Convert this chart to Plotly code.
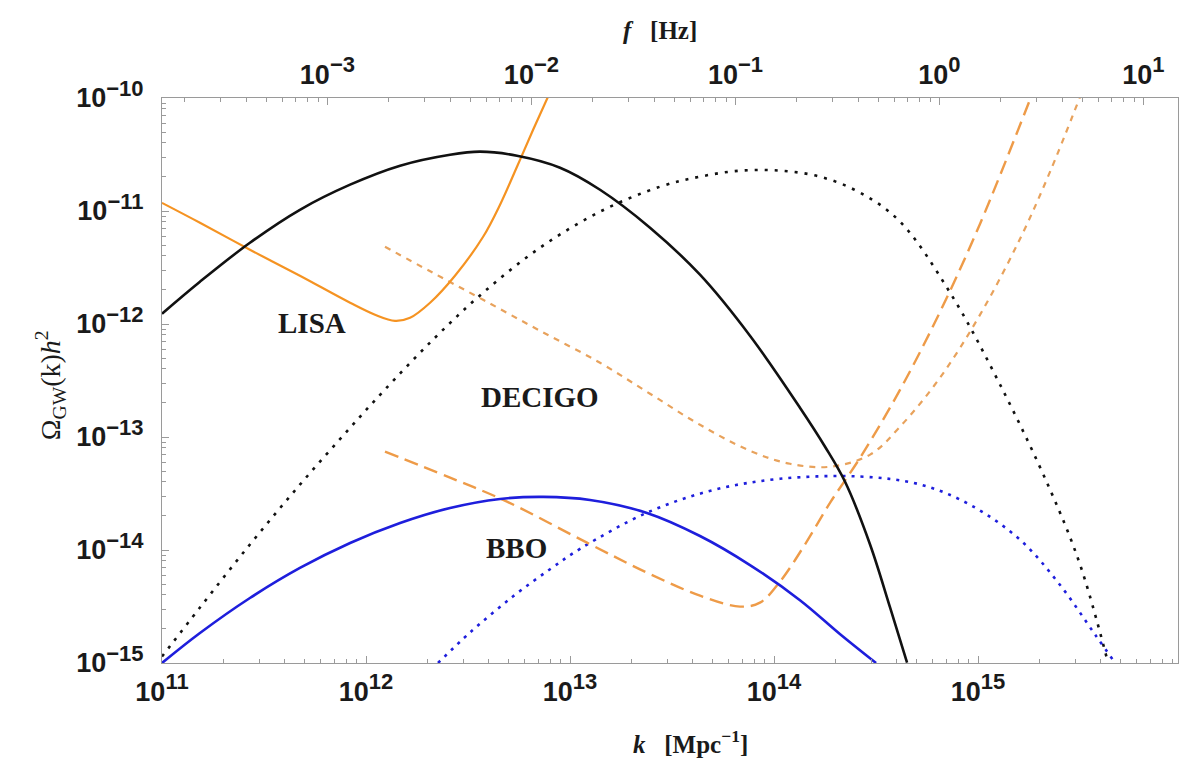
import numpy as np
import plotly.graph_objects as go

# ---- data (log10 k [Mpc^-1], log10 Omega_GW h^2) ----
black_solid_logk = [11.0, 11.186, 11.431, 11.676, 11.922, 12.167, 12.412, 12.559, 12.740, 12.951, 13.147, 13.392,
                    13.637, 13.882, 14.127, 14.25, 14.348, 14.471, 14.569, 14.652]
black_solid_logo = [-11.909, -11.626, -11.281, -10.989, -10.767, -10.599, -10.502, -10.475, -10.511, -10.617, -10.812,
                    -11.148, -11.564, -12.104, -12.741, -13.086, -13.396, -13.953, -14.51, -14.997]

black_dot_logk = [11.0, 11.186, 11.431, 11.676, 11.922, 12.083, 12.328, 12.574, 12.853, 13.147, 13.441, 13.637,
                  13.833, 14.029, 14.225, 14.422, 14.618, 14.863, 15.108, 15.353, 15.5, 15.637]
black_dot_logo = [-14.943, -14.509, -13.951, -13.422, -12.918, -12.599, -12.139, -11.723, -11.325, -11.006, -10.785,
                  -10.696, -10.643, -10.643, -10.696, -10.838, -11.095, -11.723, -12.537, -13.466, -14.13, -14.997]

blue_solid_logk = [11.0, 11.186, 11.431, 11.676, 11.922, 12.167, 12.412, 12.657, 12.868, 13.098, 13.377, 13.637,
                   13.882, 14.127, 14.324, 14.5]
blue_solid_logo = [-15.0, -14.735, -14.425, -14.159, -13.938, -13.761, -13.628, -13.548, -13.530, -13.557, -13.672,
                   -13.876, -14.133, -14.444, -14.745, -15.0]

blue_dot_logk = [12.353, 12.51, 12.721, 12.902, 13.049, 13.377, 13.701, 14.029, 14.422, 14.716, 14.961, 15.206,
                 15.402, 15.574, 15.672]
blue_dot_logo = [-15.0, -14.73, -14.41, -14.17, -13.99, -13.67, -13.47, -13.37, -13.35, -13.42, -13.60, -13.91,
                 -14.31, -14.75, -15.0]

lisa_logk = [11.0, 11.186, 11.431, 11.676, 11.922, 12.044, 12.142, 12.216, 12.314, 12.436, 12.574, 12.657, 12.740,
             12.819, 12.892]
lisa_logo = [-10.928, -11.104, -11.343, -11.573, -11.812, -11.918, -11.972, -11.945, -11.812, -11.573, -11.228,
             -10.944, -10.608, -10.281, -9.989]

decigo_logk = [12.093, 12.328, 12.574, 12.853, 13.147, 13.392, 13.637, 13.882, 14.078, 14.275, 14.471, 14.618,
               14.814, 15.01, 15.206, 15.353, 15.5]
decigo_logo = [-11.317, -11.547, -11.786, -12.06, -12.343, -12.617, -12.892, -13.122, -13.237, -13.263, -13.156,
               -12.908, -12.474, -11.917, -11.245, -10.652, -9.989]

bbo_logk = [12.093, 12.412, 12.691, 13.083, 13.377, 13.637, 13.833, 13.931, 14.029, 14.152, 14.275, 14.422, 14.618,
            14.814, 15.01, 15.26]
bbo_logo = [-13.129, -13.359, -13.572, -13.935, -14.2, -14.404, -14.501, -14.466, -14.28, -13.95, -13.581, -13.183,
            -12.581, -11.891, -11.112, -9.989]

# tick labels
k_ticks = [11, 12, 13, 14, 15]
omega_ticks = [-15, -14, -13, -12, -11, -10]
f_ticks = [-3, -2, -1, 0, 1]
f_per_k = 1.546e-15  # Hz per Mpc^-1

K_RANGE = [11.0, 15.98]
O_RANGE = [-15.0, -10.0]


def p(a):
    return [10.0 ** v for v in a]


def minors(lo, hi):
    out = []
    for d in range(int(np.floor(lo)) - 1, int(np.ceil(hi)) + 1):
        for m in range(2, 10):
            v = m * 10.0 ** d
            if 10 ** lo <= v <= 10 ** hi:
                out.append(v)
    return out


ORANGE = "#F59322"
ORANGE_L = "#EE9B48"
ORANGE_D = "#E8A25C"
BLUE = "#1E1EDC"
BLACK = "#111111"

fig = go.Figure()


def add(lk, lo, color, width, dash):
    fig.add_trace(go.Scatter(x=p(lk), y=p(lo), mode="lines",
                             line=dict(color=color, width=width, dash=dash, shape="spline", smoothing=1.0),
                             showlegend=False, hoverinfo="skip", cliponaxis=True))


add(black_dot_logk, black_dot_logo, BLACK, 2.6, "3px,7px")
add(blue_dot_logk, blue_dot_logo, BLUE, 2.6, "3px,6px")
add(decigo_logk, decigo_logo, ORANGE_D, 2.2, "6px,6px")
add(bbo_logk, bbo_logo, ORANGE_L, 2.4, "14px,7px")
add(lisa_logk, lisa_logo, ORANGE, 2.2, "solid")
add(blue_solid_logk, blue_solid_logo, BLUE, 2.6, "solid")
add(black_solid_logk, black_solid_logo, BLACK, 2.6, "solid")

# invisible trace for top frequency axis
fig.add_trace(go.Scatter(x=[10 ** (K_RANGE[0] + np.log10(f_per_k))], y=[1e-12], xaxis="x2",
                         mode="markers", marker=dict(opacity=0), showlegend=False, hoverinfo="skip"))

tickfont = dict(family="Liberation Sans", size=27, color="#1a1a1a", weight="bold")
AX = "#9a9a9a"


def sup(e):
    return "10<sup><span style='font-size:22px'>%s</span></sup>" % (str(e).replace("-", "\u2212"))


# the page body has an 8px margin, so the figure is sized/margined to land on the reference pixels
fig.update_layout(
    width=1180, height=752,
    margin=dict(l=154, r=10, t=90, b=97, autoexpand=False),
    paper_bgcolor="white", plot_bgcolor="white",
    xaxis=dict(type="log", range=K_RANGE, showgrid=False, zeroline=False, automargin=False,
               showline=True, linecolor=AX, linewidth=1.2, mirror=True,
               tickmode="array", tickvals=[10.0 ** t for t in k_ticks], ticktext=[sup(t) for t in k_ticks],
               ticks="inside", ticklen=7, tickcolor=AX, tickfont=tickfont, ticklabelstandoff=4,
               minor=dict(tickmode="array", tickvals=minors(*K_RANGE), ticks="inside", ticklen=4, tickcolor=AX, showgrid=False)),
    xaxis2=dict(type="log", range=[K_RANGE[0] + np.log10(f_per_k), K_RANGE[1] + np.log10(f_per_k)],
                overlaying="x", side="top", anchor="y", showgrid=False, zeroline=False, automargin=False,
                showline=False,
                tickmode="array", tickvals=[10.0 ** t for t in f_ticks], ticktext=[sup(t) for t in f_ticks],
                ticks="inside", ticklen=7, tickcolor=AX, tickfont=tickfont, ticklabelstandoff=8,
                minor=dict(tickmode="array",
                           tickvals=minors(K_RANGE[0] + np.log10(f_per_k), K_RANGE[1] + np.log10(f_per_k)),
                           ticks="inside", ticklen=4, tickcolor=AX, showgrid=False)),
    yaxis=dict(type="log", range=O_RANGE, showgrid=False, zeroline=False, automargin=False,
               showline=True, linecolor=AX, linewidth=1.2, mirror=True,
               tickmode="array", tickvals=[10.0 ** t for t in omega_ticks], ticktext=[sup(t) for t in omega_ticks],
               ticks="inside", ticklen=7, tickcolor=AX, tickfont=tickfont, ticklabelstandoff=12,
               minor=dict(tickmode="array", tickvals=minors(*O_RANGE), ticks="inside", ticklen=4, tickcolor=AX, showgrid=False)),
)

lab = dict(family="Liberation Serif", size=29, color="#1a1a1a", weight="bold")
fig.add_annotation(x=11.735, y=-11.99, xref="x", yref="y", text="LISA", showarrow=False, font=lab)
fig.add_annotation(x=12.853, y=-12.65, xref="x", yref="y", text="DECIGO", showarrow=False, font=lab)
fig.add_annotation(x=12.74, y=-13.98, xref="x", yref="y", text="BBO", showarrow=False, font=lab)

tit = dict(family="Liberation Serif", size=25, color="#1a1a1a", weight="bold")
fig.add_annotation(x=0.52, y=-0.14, xref="paper", yref="paper", xanchor="center", yanchor="middle",
                   text="<i>k</i>&nbsp;&nbsp;&nbsp;[Mpc<sup>\u22121</sup>]", showarrow=False, font=tit)
fig.add_annotation(x=0.49, y=1.12, xref="paper", yref="paper", xanchor="center", yanchor="middle",
                   text="<i>f</i>&nbsp;&nbsp;&nbsp;[Hz]", showarrow=False, font=tit)
fig.add_annotation(x=-0.11, y=0.492, xref="paper", yref="paper", xanchor="center", yanchor="middle",
                   textangle=-90,
                   text="\u03a9<sub>GW</sub>(k)<i>h</i><sup>2</sup>", showarrow=False,
                   font=dict(family="Liberation Serif", size=28, color="#1a1a1a"))

fig.write_html("out.html")
